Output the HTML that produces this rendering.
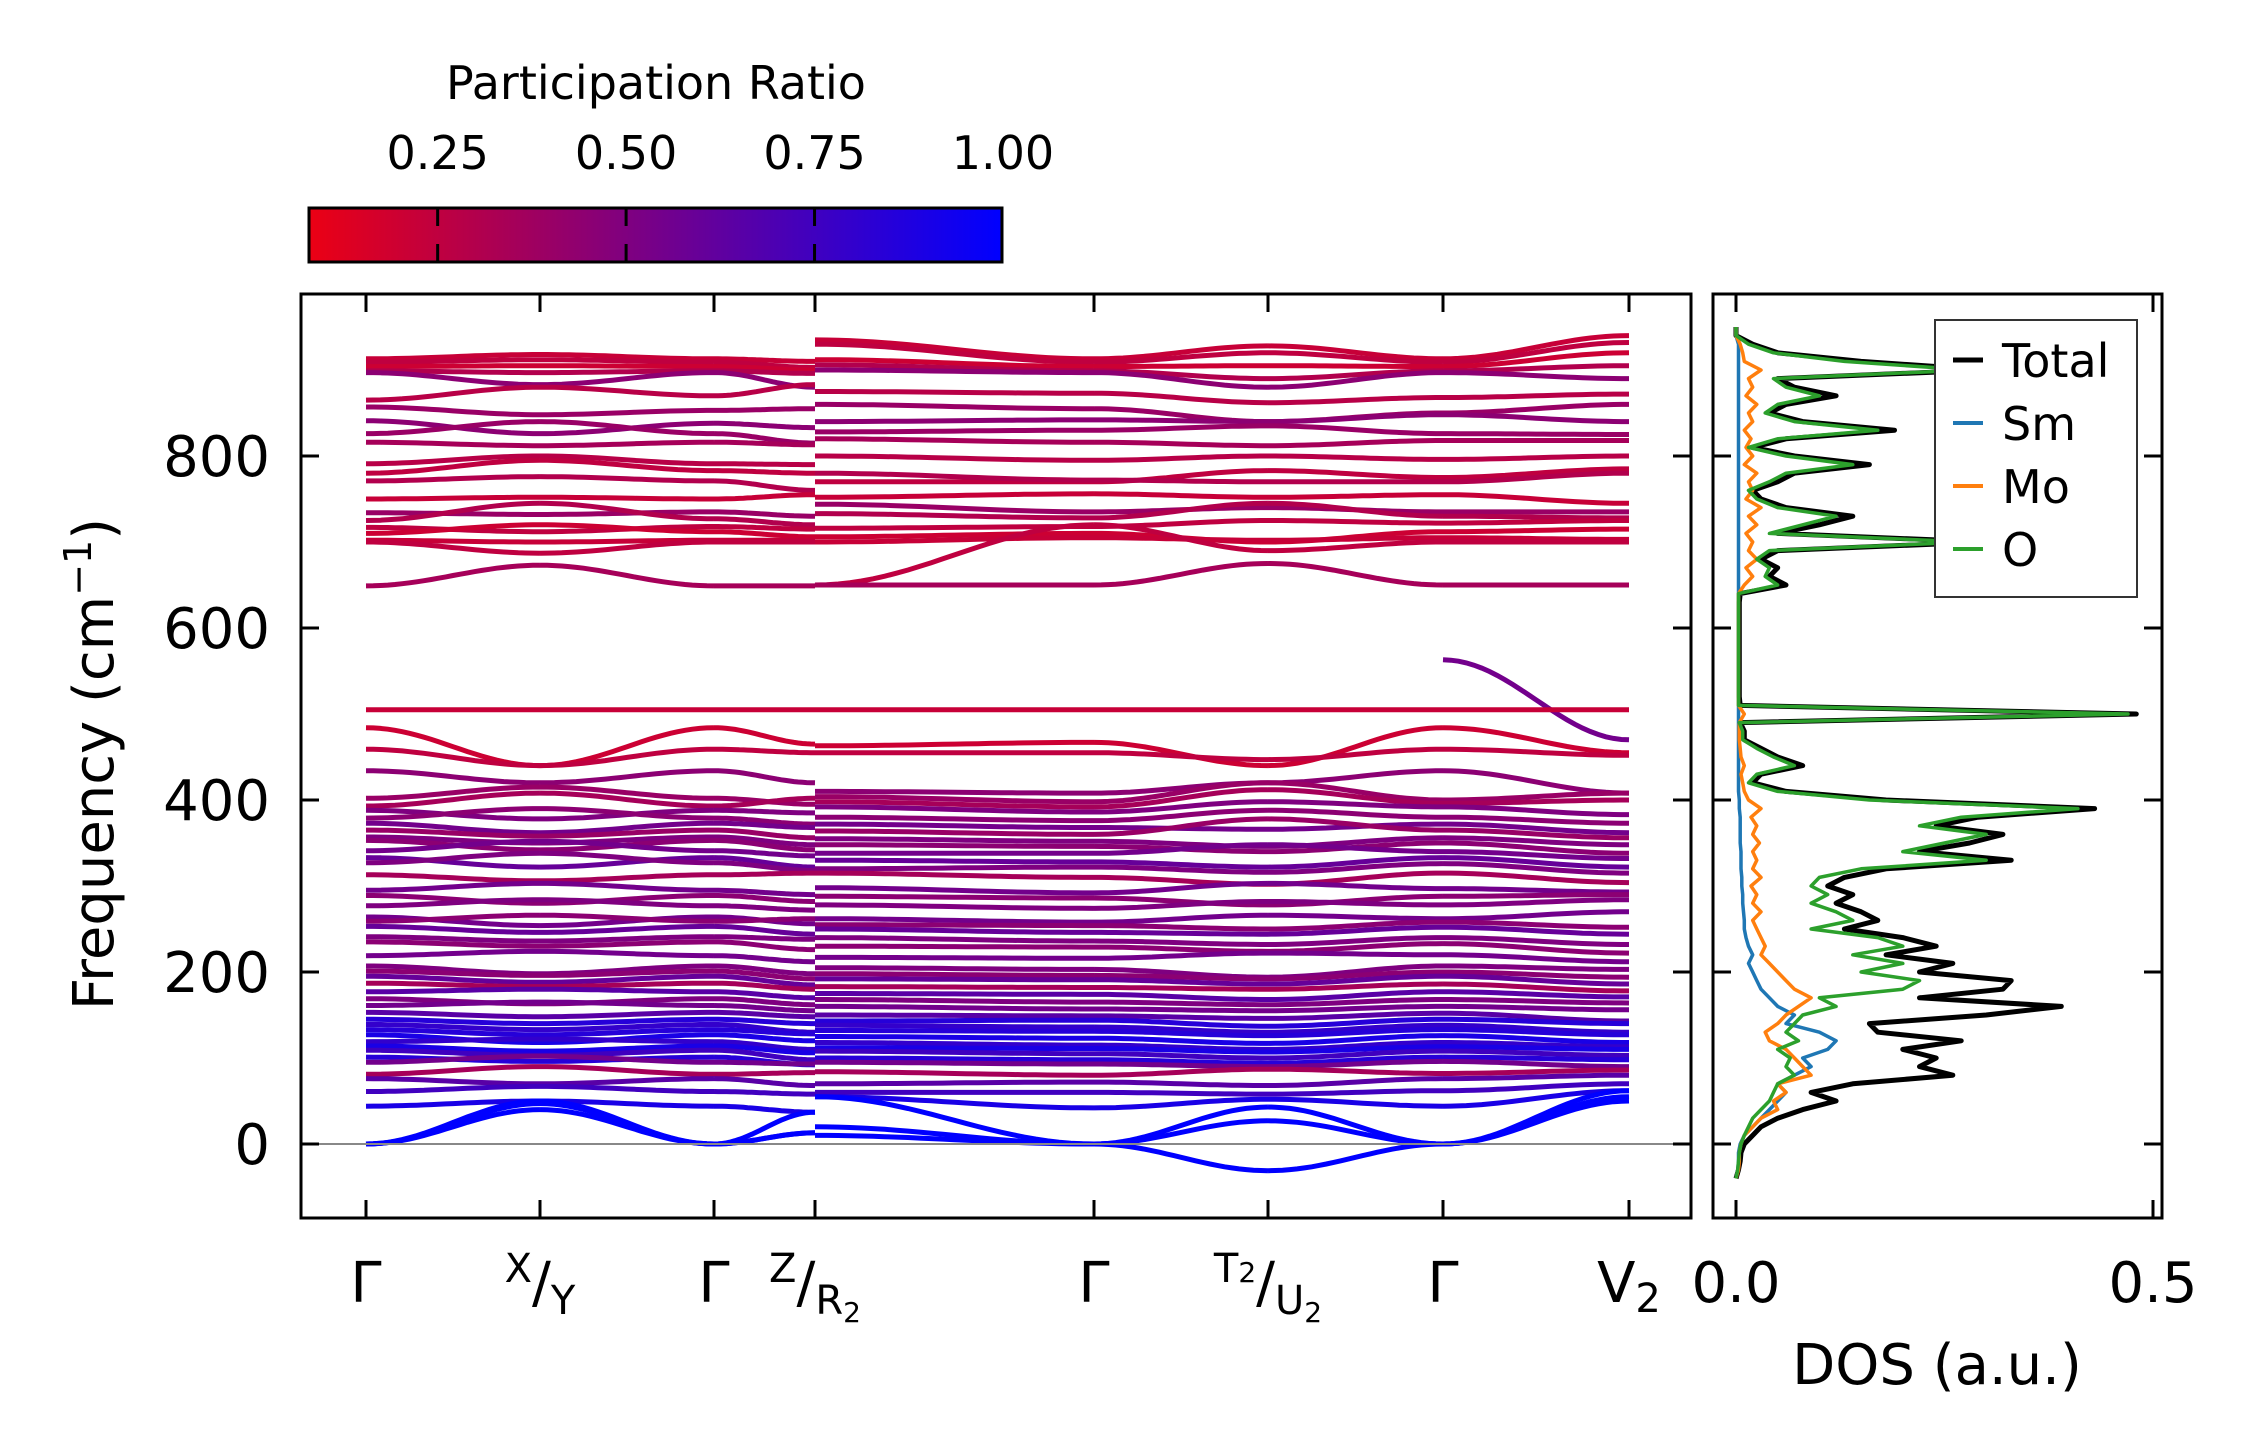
<!DOCTYPE html>
<html><head><meta charset="utf-8"><style>
html,body{margin:0;padding:0;background:#fff}
svg{display:block;font-family:"DejaVu Sans","Liberation Sans",sans-serif}
</style></head><body>
<svg id="fig" width="2258" height="1455" viewBox="0 0 2258 1455" xmlns="http://www.w3.org/2000/svg">
<defs>
<linearGradient id="cmap" x1="0" x2="1" y1="0" y2="0"><stop offset="0" stop-color="rgb(235,0,20)"/><stop offset="1" stop-color="rgb(0,0,255)"/></linearGradient>
<clipPath id="clipMain"><rect x="301" y="294" width="1390" height="924"/></clipPath>
<clipPath id="clipDos"><rect x="1713" y="294" width="449" height="924"/></clipPath>
</defs>
<g>
<text x="656" y="99" font-size="46" text-anchor="middle">Participation Ratio</text>
<rect x="309" y="208" width="693" height="54" fill="url(#cmap)" stroke="#000" stroke-width="3"/>
<g id="cbticks"></g>
</g>
<g id="main">
<g id="bands" clip-path="url(#clipMain)"></g>
<line x1="301" x2="1691" y1="1144" y2="1144" stroke="#888" stroke-width="2"/>
<rect x="301" y="294" width="1390" height="924" fill="none" stroke="#000" stroke-width="3"/>
<g id="mainticks"></g>
<text transform="translate(113,764) rotate(-90)" font-size="56" text-anchor="middle">Frequency (cm<tspan font-size="38" dy="-22">−1</tspan><tspan dy="22">)</tspan></text>
</g>
<g id="dos">
<g id="doslines" clip-path="url(#clipDos)"></g>
<rect x="1713" y="294" width="449" height="924" fill="none" stroke="#000" stroke-width="3"/>
<g id="dosticks"></g>
<text x="1937" y="1384" font-size="56" text-anchor="middle">DOS (a.u.)</text>
<g>
<rect x="1935" y="320" width="202" height="277" fill="#fff" stroke="#333" stroke-width="2"/>
<g id="legend"></g>
</g>
</g>
</svg>
<script>
const cbTicks = [0.25, 0.50, 0.75, 1.00];
const yTicks = [0, 200, 400, 600, 800];
const kLabels = ["Γ", "X/Y", "Γ", "Z/R2", "Γ", "T2/U2", "Γ", "V2"];
// band nodes: [ratio, Γ0, X, Γ1, Z, R2, Γ2, T2, Γ3, V2]
const bandNodes = [
[0.22,913,918,913,910,935,913,928,913,940],
[0.25,909,912,909,903,930,909,920,909,932],
[0.2,904,905,904,900,912,904,905,904,920],
[0.3,899,897,899,896,906,899,890,899,905],
[0.45,897,883,897,880,900,897,880,897,890],
[0.28,865,880,870,883,875,873,862,868,872],
[0.4,857,848,853,855,860,855,840,850,860],
[0.45,841,826,838,833,840,842,840,848,840],
[0.4,826,840,826,815,828,830,835,826,825],
[0.35,816,812,816,813,820,816,812,818,818],
[0.28,791,800,791,790,800,795,800,796,800],
[0.25,780,795,783,780,770,770,783,775,785],
[0.3,771,776,771,760,780,772,770,770,780],
[0.22,750,752,750,755,752,756,752,755,745],
[0.4,734,732,735,730,744,735,740,735,735],
[0.3,725,745,727,720,733,728,745,730,728],
[0.25,717,712,718,715,716,718,725,722,725],
[0.2,710,720,712,706,706,710,700,712,715],
[0.22,702,700,702,702,700,705,702,705,703],
[0.25,700,687,700,700,650,720,690,700,700],
[0.35,649,673,649,649,650,650,675,650,650],
[0.55,null,null,null,null,null,null,null,563,470],
[0.22,505,505,505,505,505,505,505,505,505],
[0.2,484,440,484,465,463,467,440,484,455],
[0.25,459,440,459,455,455,455,447,459,452],
[0.45,434,420,434,420,410,408,420,434,408],
[0.4,402,415,402,395,404,398,420,400,408],
[0.35,393,408,393,402,398,392,412,396,400],
[0.5,388,378,388,385,392,386,398,392,383],
[0.45,379,390,379,372,380,376,388,380,373],
[0.55,373,362,373,368,372,368,366,372,362],
[0.4,365,358,365,356,364,360,378,365,356],
[0.5,357,350,357,348,355,352,346,356,348],
[0.45,353,342,353,342,348,346,340,350,338],
[0.55,341,352,341,335,338,338,348,340,332],
[0.6,333,322,333,322,330,328,322,333,322],
[0.5,327,338,327,318,320,322,316,326,315],
[0.35,313,306,313,315,315,310,302,315,304],
[0.55,295,303,295,290,298,292,303,297,293],
[0.45,289,280,289,282,288,286,278,288,290],
[0.5,277,284,277,272,278,274,282,278,284],
[0.55,264,254,264,256,262,258,266,262,270],
[0.45,259,266,259,262,255,254,250,258,252],
[0.6,253,246,253,244,250,246,244,252,244],
[0.5,241,236,241,238,240,236,232,240,232],
[0.45,235,230,235,226,230,229,224,233,222],
[0.55,219,224,219,212,217,216,222,220,212],
[0.5,207,198,207,198,205,203,194,207,203],
[0.45,201,196,201,192,198,196,192,200,194],
[0.6,195,188,195,185,192,191,186,195,186],
[0.35,187,183,187,180,183,182,180,186,178],
[0.65,177,180,177,170,175,174,168,177,171],
[0.5,169,163,169,162,168,165,162,168,164],
[0.55,161,165,161,155,160,157,155,160,156],
[0.65,153,148,153,148,150,149,146,152,143],
[0.85,145,140,145,140,143,144,137,145,140],
[0.8,139,133,139,130,138,136,130,138,130],
[0.85,133,127,133,128,132,131,126,133,127],
[0.9,127,118,127,120,125,123,117,126,118],
[0.8,119,122,119,110,118,115,110,118,113],
[0.9,114,108,114,106,112,111,107,113,110],
[0.75,109,103,109,98,108,105,100,108,103],
[0.85,101,96,101,92,100,98,94,101,98],
[0.55,95,102,95,93,95,93,90,96,90],
[0.35,81,90,81,83,84,80,87,82,86],
[0.65,76,70,76,68,70,72,68,76,80],
[0.75,61,67,61,58,60,60,58,62,70],
[0.9,44,50,44,37,55,42,52,44,62],
[1.0,0,50,0,13,55,0,-31,0,55],
[1.0,0,47,0,13,20,0,43,0,62],
[1.0,0,40,0,37,10,0,27,0,50]
];
const dosFreq = [
-40,-30,-20,-10,0,10,20,30,40,50,
60,70,80,90,100,110,120,130,140,150,
160,170,180,190,200,210,220,230,240,250,
260,270,280,290,300,310,320,330,340,350,
360,370,380,390,400,410,420,430,440,450,
460,470,480,490,500,510,520,530,540,550,
560,570,580,590,600,610,620,630,640,650,
660,670,680,690,700,710,720,730,740,750,
760,770,780,790,800,810,820,830,840,850,
860,870,880,890,900,910,920,930,940,950];
const dosTotal = [
0,0.003,0.005,0.006,0.01,0.02,0.03,0.05,0.08,0.12,
0.09,0.14,0.26,0.22,0.24,0.2,0.27,0.17,0.16,0.3,
0.39,0.22,0.32,0.33,0.22,0.26,0.18,0.24,0.2,0.13,
0.17,0.15,0.12,0.14,0.11,0.13,0.18,0.33,0.22,0.28,
0.32,0.24,0.29,0.43,0.18,0.06,0.02,0.03,0.08,0.05,
0.03,0.01,0.01,0.005,0.48,0.005,0.004,0.004,0.004,0.004,
0.004,0.004,0.004,0.004,0.004,0.004,0.004,0.004,0.005,0.06,
0.04,0.05,0.03,0.05,0.3,0.05,0.1,0.14,0.06,0.03,
0.02,0.05,0.07,0.16,0.07,0.02,0.06,0.19,0.08,0.04,
0.06,0.12,0.07,0.05,0.3,0.15,0.05,0.02,0,0];
const dosSm = [
0,0.002,0.003,0.003,0.005,0.01,0.02,0.03,0.04,0.05,
0.06,0.05,0.07,0.09,0.08,0.11,0.12,0.1,0.06,0.07,
0.05,0.04,0.03,0.025,0.02,0.015,0.02,0.015,0.012,0.01,
0.01,0.009,0.008,0.008,0.007,0.007,0.006,0.006,0.006,0.005,
0.005,0.005,0.005,0.004,0.004,0.003,0.003,0.003,0.003,0.003,
0.003,0.003,0.003,0.003,0.003,0.003,0.003,0.003,0.003,0.003,
0.003,0.003,0.003,0.003,0.003,0.003,0.003,0.003,0.003,0.003,
0.003,0.003,0.003,0.003,0.003,0.003,0.003,0.003,0.003,0.003,
0.003,0.003,0.003,0.003,0.003,0.003,0.003,0.003,0.003,0.003,
0.003,0.003,0.003,0.003,0.003,0.003,0.003,0.003,0,0];
const dosMo = [
0,0.003,0.004,0.004,0.006,0.01,0.02,0.03,0.05,0.045,
0.06,0.05,0.09,0.08,0.07,0.06,0.04,0.035,0.05,0.06,
0.075,0.09,0.07,0.06,0.05,0.04,0.03,0.035,0.03,0.025,
0.02,0.03,0.02,0.025,0.018,0.03,0.02,0.025,0.02,0.028,
0.02,0.025,0.018,0.03,0.015,0.01,0.008,0.006,0.01,0.006,
0.005,0.004,0.004,0.004,0.01,0.003,0.003,0.003,0.003,0.003,
0.003,0.003,0.003,0.003,0.003,0.003,0.003,0.003,0.003,0.01,
0.02,0.012,0.025,0.015,0.02,0.012,0.025,0.015,0.03,0.012,
0.02,0.015,0.025,0.01,0.02,0.012,0.018,0.01,0.02,0.015,
0.025,0.012,0.02,0.015,0.03,0.01,0.008,0.005,0,0];
const dosO = [
0,0.002,0.003,0.004,0.006,0.01,0.015,0.02,0.03,0.04,
0.045,0.05,0.07,0.06,0.065,0.05,0.075,0.06,0.07,0.08,
0.12,0.1,0.2,0.22,0.15,0.2,0.14,0.2,0.17,0.09,
0.14,0.12,0.09,0.11,0.09,0.1,0.15,0.3,0.2,0.25,
0.3,0.22,0.27,0.41,0.16,0.05,0.015,0.025,0.07,0.045,
0.025,0.008,0.008,0.004,0.47,0.003,0.003,0.003,0.003,0.003,
0.003,0.003,0.003,0.003,0.003,0.003,0.003,0.003,0.003,0.05,
0.035,0.04,0.025,0.04,0.28,0.04,0.08,0.12,0.05,0.025,
0.015,0.04,0.06,0.14,0.06,0.015,0.05,0.17,0.07,0.035,
0.05,0.1,0.06,0.045,0.28,0.13,0.045,0.015,0,0];
const dosXTicks = [0.0, 0.5];

const NS = "http://www.w3.org/2000/svg";
const kX = [366, 540, 714, 815, 1094, 1268, 1443, 1629];
function yScale(v){ return 1144 - v*0.86; }
function dosX(v){ return 1736 + v*834; }
function cbX(p){ return 308 + (p-0.078)/(1-0.078)*695; }
function ratioColor(p){
  const t = Math.max(0, Math.min(1, (p-0.078)/(1-0.078)));
  return `rgb(${Math.round(235*(1-t))},0,${Math.round(20+235*t)})`;
}
function mk(tag, attrs, parent){
  const e = document.createElementNS(NS, tag);
  for (const k in attrs) e.setAttribute(k, attrs[k]);
  parent.appendChild(e); return e;
}

const cbG = document.getElementById('cbticks');
cbTicks.forEach((p,i)=>{
  const x = cbX(p);
  if (i < cbTicks.length-1) {
    const t1 = mk('line',{x1:x,x2:x,y1:208,y2:226,stroke:'#000','stroke-width':3},cbG);
    
    
    const t2 = mk('line',{x1:x,x2:x,y1:244,y2:262,stroke:'#000','stroke-width':3},cbG);
    
    
  }
  const tx = mk('text',{x:x,y:169,'font-size':46,'text-anchor':'middle'},cbG);
  tx.textContent = p.toFixed(2);
  
  
});

const segs = [[0,1,0,1],[1,2,1,2],[2,3,2,3],[3,4,4,5],[4,5,5,6],[5,6,6,7],[6,7,7,8]];
const bandsG = document.getElementById('bands');
bandNodes.forEach((b)=>{
  const p = b[0], vals = b.slice(1);
  segs.forEach(s=>{
    const a = vals[s[2]], c = vals[s[3]];
    if (a === null || c === null) return;
    const xa = kX[s[0]], xb = kX[s[1]];
    let pts = [];
    for (let i=0;i<=24;i++){
      const t = i/24;
      const v = a + (c-a)*(1-Math.cos(Math.PI*t))/2;
      pts.push((xa+(xb-xa)*t).toFixed(1)+','+yScale(v).toFixed(1));
    }
    const pl = mk('polyline',{points:pts.join(' '),fill:'none',stroke:ratioColor(p),'stroke-width':5},bandsG);
    
    
  });
});

const mt = document.getElementById('mainticks');
yTicks.forEach(v=>{
  const y = yScale(v);
  const l1 = mk('line',{x1:301,x2:319,y1:y,y2:y,stroke:'#000','stroke-width':3},mt);
  
  
  const l2 = mk('line',{x1:1673,x2:1691,y1:y,y2:y,stroke:'#000','stroke-width':3},mt);
  
  
  const tx = mk('text',{x:270,y:y+20,'font-size':56,'text-anchor':'end'},mt);
  tx.textContent = String(v);
  
  
});
kX.forEach((x,i)=>{
  const l1 = mk('line',{x1:x,x2:x,y1:294,y2:312,stroke:'#000','stroke-width':3},mt);
  
  
  const l2 = mk('line',{x1:x,x2:x,y1:1200,y2:1218,stroke:'#000','stroke-width':3},mt);
  
  
  const lab = kLabels[i];
  const tx = mk('text',{x:x,y:1302,'font-size':56,'text-anchor':'middle'},mt);
  
  
  if (lab.indexOf('/')>=0){
    const parts = lab.split('/');
    const sup = parts[0], sub = parts[1];
    const supMain = sup.replace('2',''), subMain = sub.replace('2','');
    let h = `<tspan font-size="40" dy="-20">${supMain}</tspan>`;
    if (sup.endsWith('2')) h += `<tspan font-size="28">2</tspan>`;
    h += `<tspan font-size="56" dy="20">/</tspan><tspan font-size="40" dy="12">${subMain}</tspan>`;
    if (sub.endsWith('2')) h += `<tspan font-size="28" dy="8">2</tspan>`;
    tx.innerHTML = h;
  } else if (lab.endsWith('2')) {
    tx.innerHTML = `${lab[0]}<tspan font-size="40" dy="10">2</tspan>`;
  } else {
    tx.textContent = lab;
  }
});

const dl = document.getElementById('doslines');
function dosLine(arr, color, w, name){
  const pts = arr.map((v,i)=>dosX(v).toFixed(1)+','+yScale(dosFreq[i]).toFixed(1));
  const pl = mk('polyline',{points:pts.join(' '),fill:'none',stroke:color,'stroke-width':w,'stroke-linejoin':'round'},dl);
  
  
}
dosLine(dosTotal,'#000',5,'dos-total-line');
dosLine(dosSm,'#1f77b4',3.5,'dos-sm-line');
dosLine(dosMo,'#ff7f0e',3.5,'dos-mo-line');
dosLine(dosO,'#2ca02c',3.5,'dos-o-line');

const dt = document.getElementById('dosticks');
yTicks.forEach(v=>{
  const y = yScale(v);
  const l1 = mk('line',{x1:1713,x2:1731,y1:y,y2:y,stroke:'#000','stroke-width':3},dt);
  
  
  const l2 = mk('line',{x1:2144,x2:2162,y1:y,y2:y,stroke:'#000','stroke-width':3},dt);
  
  
});
dosXTicks.forEach(v=>{
  const x = dosX(v);
  const l1 = mk('line',{x1:x,x2:x,y1:294,y2:312,stroke:'#000','stroke-width':3},dt);
  
  
  const l2 = mk('line',{x1:x,x2:x,y1:1200,y2:1218,stroke:'#000','stroke-width':3},dt);
  
  
  const tx = mk('text',{x:x,y:1302,'font-size':56,'text-anchor':'middle'},dt);
  tx.textContent = v.toFixed(1);
  
  
});

const lg = document.getElementById('legend');
const legNames = ['Total','Sm','Mo','O'];
const legColors = ['#000','#1f77b4','#ff7f0e','#2ca02c'];
const legY = [360,423,486,549];
legNames.forEach((n,i)=>{
  const l = mk('line',{x1:1953,x2:1983,y1:legY[i],y2:legY[i],stroke:legColors[i],'stroke-width':i===0?5:4},lg);
  
  
  const t = mk('text',{x:2002,y:legY[i]+17,'font-size':46},lg);
  t.textContent = n;
  
  
});
</script>
</body></html>
